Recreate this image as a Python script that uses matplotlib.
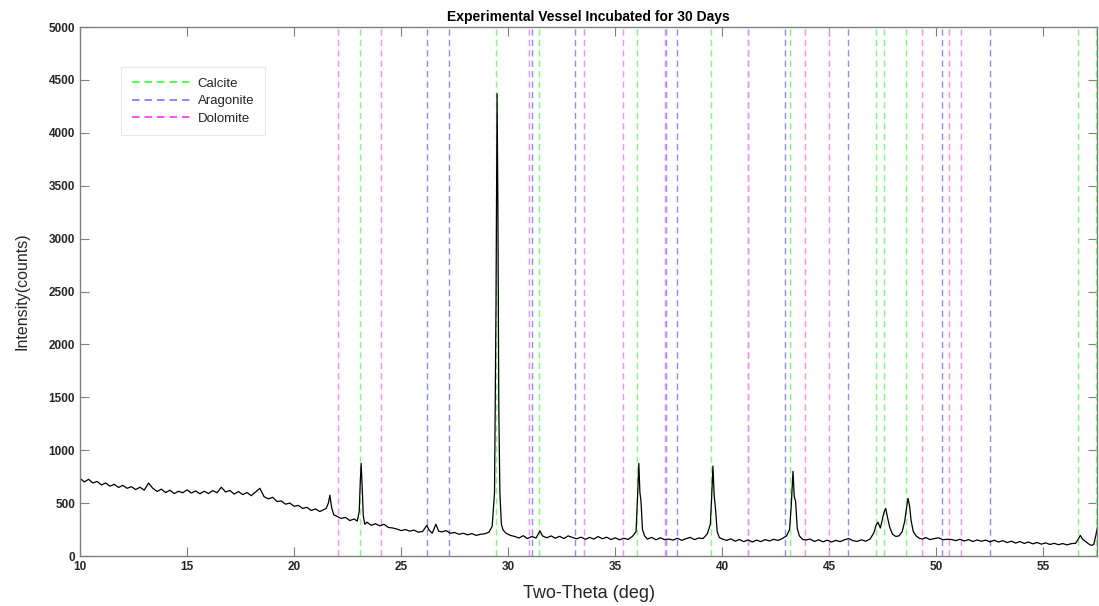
import numpy as np
import matplotlib
matplotlib.use("Agg")
import matplotlib.pyplot as plt

plt.rcParams["font.family"] = ["Liberation Sans", "DejaVu Sans"]

# diffraction pattern (2-theta in deg, intensity in counts)
two_theta = [
    10.0, 10.2, 10.4, 10.6, 10.8, 11.0, 11.2, 11.4, 11.6, 11.8, 12.0, 12.2, 12.4, 12.6, 12.8,
    13.0, 13.2, 13.4, 13.6, 13.8, 14.0, 14.2, 14.4, 14.6, 14.8, 15.0, 15.2, 15.4, 15.6, 15.8,
    16.0, 16.2, 16.4, 16.6, 16.8, 17.0, 17.2, 17.4, 17.6, 17.8, 18.0, 18.2, 18.4, 18.6, 18.8,
    19.0, 19.2, 19.4, 19.6, 19.8, 20.0, 20.2, 20.4, 20.6, 20.8, 21.0, 21.2, 21.4, 21.5, 21.6,
    21.67, 21.75, 21.85, 22.0, 22.2, 22.4, 22.6, 22.8, 22.95, 23.04, 23.09, 23.13, 23.18, 23.23,
    23.3, 23.4, 23.6, 23.8, 24.0, 24.2, 24.4, 24.6, 24.8, 25.0, 25.2, 25.4, 25.6, 25.8, 26.0,
    26.2, 26.3, 26.45, 26.62, 26.75, 26.9, 27.1, 27.3, 27.5, 27.7, 27.9, 28.1, 28.3, 28.5, 28.7,
    28.9, 29.1, 29.25, 29.36, 29.43, 29.48, 29.52, 29.56, 29.61, 29.68, 29.76, 29.9, 30.1, 30.3,
    30.5, 30.7, 30.9, 31.1, 31.3, 31.48, 31.6, 31.8, 32.0, 32.2, 32.4, 32.6, 32.8, 33.0, 33.2,
    33.4, 33.6, 33.8, 34.0, 34.2, 34.4, 34.6, 34.8, 35.0, 35.2, 35.4, 35.6, 35.8, 35.97, 36.04,
    36.1, 36.15, 36.2, 36.27, 36.37, 36.5, 36.7, 36.9, 37.1, 37.3, 37.5, 37.7, 37.9, 38.1, 38.3,
    38.5, 38.7, 38.9, 39.1, 39.3, 39.44, 39.5, 39.56, 39.62, 39.68, 39.76, 39.86, 40.0, 40.2,
    40.4, 40.6, 40.8, 41.0, 41.2, 41.4, 41.6, 41.8, 42.0, 42.2, 42.4, 42.6, 42.8, 43.0, 43.14,
    43.22, 43.3, 43.36, 43.42, 43.5, 43.6, 43.75, 43.9, 44.1, 44.3, 44.5, 44.7, 44.9, 45.1,
    45.3, 45.5, 45.7, 45.9, 46.1, 46.3, 46.5, 46.7, 46.9, 47.08, 47.18, 47.27, 47.38, 47.48,
    47.56, 47.63, 47.72, 47.82, 47.95, 48.1, 48.25, 48.4, 48.52, 48.6, 48.67, 48.74, 48.82,
    48.92, 49.05, 49.2, 49.35, 49.5, 49.7, 49.9, 50.1, 50.3, 50.5, 50.7, 50.9, 51.1, 51.3,
    51.5, 51.7, 51.9, 52.1, 52.3, 52.5, 52.7, 52.9, 53.1, 53.3, 53.5, 53.7, 53.9, 54.1, 54.3,
    54.5, 54.7, 54.9, 55.1, 55.3, 55.5, 55.7, 55.9, 56.1, 56.3, 56.5, 56.64, 56.72, 56.82,
    56.95, 57.1, 57.25, 57.35, 57.45, 57.55,
]
counts = [
    735, 700, 725, 690, 705, 672, 690, 660, 678, 648, 668, 640, 655, 628, 650,
    622, 690, 640, 610, 632, 600, 622, 590, 612, 598, 625, 595, 615, 588, 612,
    590, 618, 598, 650, 605, 620, 585, 610, 580, 600, 570, 605, 640, 560, 540,
    555, 515, 520, 490, 500, 470, 478, 450, 460, 430, 445, 420, 440, 450, 500,
    575, 460, 390, 375, 355, 365, 335, 350, 330, 420, 700, 875, 650, 380,
    300, 320, 290, 305, 285, 300, 270, 265, 255, 240, 250, 235, 245, 225, 232,
    290, 245, 215, 300, 235, 228, 240, 215, 222, 205, 215, 200, 212, 195, 205,
    210, 225, 280, 600, 2400, 4370, 3200, 1400, 600, 300, 245, 215, 195, 185,
    170, 192, 165, 185, 170, 238, 190, 172, 190, 168, 186, 165, 190, 175, 163,
    178, 158, 176, 160, 184, 163, 178, 155, 172, 153, 168, 157, 185, 230, 560,
    875, 600, 520, 250, 190, 160, 176, 153, 172, 155, 160, 150, 168, 148, 163,
    176, 155, 170, 165, 210, 300, 550, 850, 570, 450, 230, 175, 160, 148,
    162, 140, 156, 136, 152, 132, 150, 136, 155, 142, 158, 147, 165, 190, 250,
    480, 800, 560, 520, 260, 190, 156, 152, 160, 138, 153, 134, 150, 132,
    148, 136, 153, 165, 145, 138, 153, 140, 160, 220, 290, 320, 265, 350,
    420, 450, 360, 270, 205, 185, 190, 230, 330, 450, 545, 480, 330,
    230, 190, 168, 160, 175, 155, 165, 172, 154, 158, 156, 145, 158, 142,
    155, 137, 152, 139, 150, 134, 149, 132, 145, 127, 140, 122, 137, 119, 132,
    115, 128, 112, 124, 109, 120, 107, 118, 105, 117, 120, 165, 195, 160,
    140, 115, 100, 110, 200, 300,
]
# reference peak positions (deg)
calcite = [23.07, 29.42, 31.44, 36.02, 39.46, 43.18, 47.16, 47.55, 48.58, 56.62, 57.45]
aragonite = [26.21, 27.23, 31.10, 33.14, 37.39, 37.89, 41.20, 42.91, 45.87, 50.24, 52.48]
dolomite = [22.03, 24.08, 30.98, 33.54, 35.37, 37.30, 41.20, 43.85, 44.98, 49.32, 50.58, 51.13]

fig = plt.figure(figsize=(10.99, 6.06), dpi=100)
ax = fig.add_axes([0.0728, 0.0825, 0.9254, 0.8729])

dash = (0, (4.5, 3))
for i, x in enumerate(calcite):
    ax.axvline(x, color="#7dff7d", lw=1, linestyle=dash, label="Calcite" if i == 0 else None)
for i, x in enumerate(aragonite):
    ax.axvline(x, color="#8c8cff", lw=1, linestyle=dash, label="Aragonite" if i == 0 else None)
for i, x in enumerate(dolomite):
    ax.axvline(x, color="#ff8cff", lw=1, linestyle=dash, label="Dolomite" if i == 0 else None)

ax.plot(two_theta, counts, color="black", lw=0.9)

ax.set_xlim(10, 57.5)
ax.set_ylim(0, 5000)
ax.set_xticks(np.arange(10, 56, 5))
ax.set_yticks(np.arange(0, 5001, 500))

for s in ax.spines.values():
    s.set_color("#808080")
    s.set_linewidth(1)
ax.tick_params(direction="in", length=6.5, width=0.8, color="#808080",
               top=True, right=True, labelsize=8.5, labelcolor="#262626")
for lab in ax.get_xticklabels() + ax.get_yticklabels():
    lab.set_fontweight("bold")

ax.set_title("Experimental Vessel Incubated for 30 Days", fontsize=10,
             fontweight="bold", pad=4)
ax.set_xlabel("Two-Theta (deg)", fontsize=13, color="#262626", labelpad=9)
ax.set_ylabel("Intensity(counts)", fontsize=11.5, color="#262626", labelpad=14)

leg = ax.legend(loc="upper left", bbox_to_anchor=(0.034, 0.937), fontsize=9.5,
                handlelength=4.6, handletextpad=0.4, labelspacing=0.4,
                borderpad=0.8, fancybox=False, framealpha=1, edgecolor="#e8e8e8")
leg.get_frame().set_linewidth(0.8)
leg_colors = ["#33ff33", "#7777ff", "#ff33ff"]
for line, c in zip(leg.get_lines(), leg_colors):
    line.set_color(c)
    line.set_linewidth(1.2)
for t in leg.get_texts():
    t.set_color("#262626")

fig.savefig("out.png", dpi=100)
